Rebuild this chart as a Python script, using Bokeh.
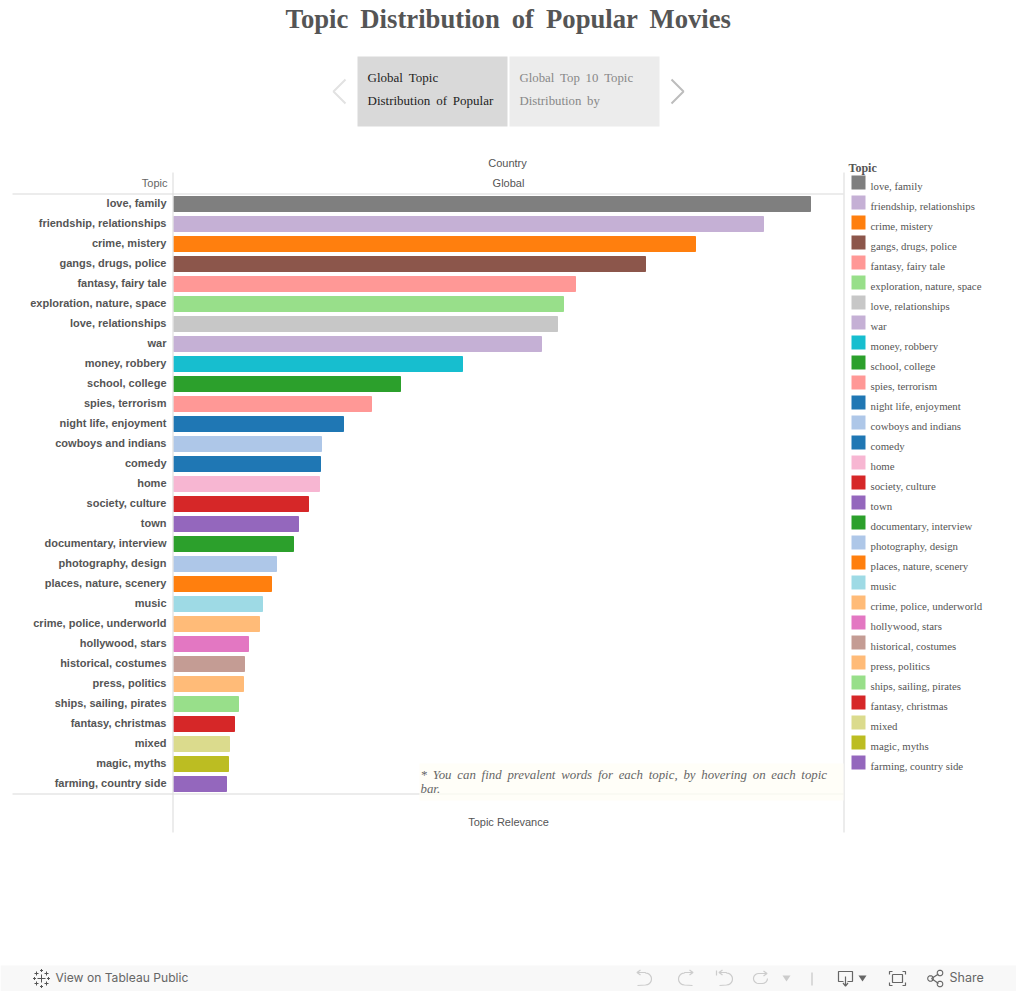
import math
from bokeh.plotting import figure
from bokeh.embed import file_html
from bokeh.resources import INLINE
from bokeh.layouts import column
from bokeh.core.properties import value
from bokeh.transform import dodge
from bokeh.models import ColumnDataSource, FactorRange, Range1d, LinearAxis, FixedTicker

topics = ["love, family", "friendship, relationships", "crime, mistery", "gangs, drugs, police",
          "fantasy, fairy tale", "exploration, nature, space", "love, relationships", "war",
          "money, robbery", "school, college", "spies, terrorism", "night life, enjoyment",
          "cowboys and indians", "comedy", "home", "society, culture", "town", "documentary, interview",
          "photography, design", "places, nature, scenery", "music", "crime, police, underworld",
          "hollywood, stars", "historical, costumes", "press, politics", "ships, sailing, pirates",
          "fantasy, christmas", "mixed", "magic, myths", "farming, country side"]
relevance = [0.637, 0.590, 0.522, 0.472, 0.402, 0.390, 0.384, 0.368, 0.289, 0.227,
             0.198, 0.170, 0.148, 0.147, 0.146, 0.135, 0.125, 0.120, 0.103, 0.098,
             0.089, 0.086, 0.075, 0.071, 0.070, 0.065, 0.061, 0.056, 0.055, 0.053]
colors = ["#7f7f7f", "#c5b0d5", "#ff7f0e", "#8c564b", "#ff9896", "#98df8a", "#c7c7c7", "#c5b0d5",
          "#17becf", "#2ca02c", "#ff9896", "#1f77b4", "#aec7e8", "#1f77b4", "#f7b6d2", "#d62728",
          "#9467bd", "#2ca02c", "#aec7e8", "#ff7f0e", "#9edae5", "#ffbb78", "#e377c2", "#c49c94",
          "#ffbb78", "#98df8a", "#d62728", "#dbdb8d", "#bcbd22", "#9467bd"]

SANS = "Liberation Sans"
SERIF = "Liberation Serif"
W, H = 1016, 991
TH = " \u2009"  # the reference's wider word gap

p = figure(width=W, height=H, output_backend="svg", toolbar_location=None,
           y_range=FactorRange(factors=topics[::-1], range_padding=0, factor_padding=0, group_padding=0),
           x_range=Range1d(0, 0.67), x_axis_location=None, y_axis_location="left",
           min_border_left=173, min_border_right=173, min_border_top=192, min_border_bottom=199,
           frame_width=670, frame_height=600, margin=(0, 0, -H, 0), frame_align=False)
p.outline_line_color = None
p.grid.visible = False

src = ColumnDataSource(dict(topic=topics, relevance=relevance, color=colors))
bars = p.hbar(y=dodge("topic", -0.075, range=p.y_range), right="relevance", left=0, height=0.75,
              color="color", source=src)

ya = p.yaxis[0]
ya.axis_line_color = None
ya.major_tick_line_color = None
ya.minor_tick_line_color = None
ya.major_tick_out = 0
ya.major_label_text_font = SANS
ya.major_label_text_font_size = "11px"
ya.major_label_text_font_style = "bold"
ya.major_label_text_color = "#555555"
ya.major_label_standoff = 7

bottom = LinearAxis(axis_label="Topic Relevance", axis_label_text_font=SANS, axis_label_text_font_size="11px",
                    axis_label_text_font_style="normal", axis_label_text_color="#555555",
                    axis_line_color=None, major_tick_line_color=None, minor_tick_line_color=None,
                    ticker=FixedTicker(ticks=[]), axis_label_standoff=23)
p.add_layout(bottom, "below")
top = LinearAxis(axis_label="Global", axis_label_text_font=SANS, axis_label_text_font_size="11px",
                 axis_label_text_font_style="normal", axis_label_text_color="#555555",
                 axis_line_color=None, major_tick_line_color=None, minor_tick_line_color=None,
                 ticker=FixedTicker(ticks=[]), axis_label_standoff=4)
p.add_layout(top, "above")

# page furniture: a transparent layer in pixel coordinates over the chart
o = figure(width=W, height=H, frame_width=W, frame_height=H, output_backend="svg", toolbar_location=None,
           x_range=Range1d(0, W), y_range=Range1d(H, 0), x_axis_location=None, y_axis_location=None,
           min_border_left=0, min_border_right=0, min_border_top=0, min_border_bottom=0,
           margin=0, background_fill_alpha=0, border_fill_alpha=0, frame_align=False)
o.outline_line_color = None
o.grid.visible = False


def box(x0, y0, x1, y1, color):
    o.quad(left=x0, right=x1, top=y0, bottom=y1, fill_color=color, line_color=None)


def poly(pts, color, w=1.2, closed=False, fill=None):
    xs = [a for a, _ in pts]
    ys = [b for _, b in pts]
    if closed:
        xs, ys = xs + xs[:1], ys + ys[:1]
    if fill:
        o.patch(xs, ys, fill_color=fill, line_color=None)
    else:
        o.line(xs, ys, line_color=color, line_width=w)


def text(x, y, s, size, color="#555555", font=SANS, style="normal", align="left"):
    o.text(x=[x], y=[y - 1], text=[s], text_font=value(font), text_font_size=value(f"{size}px"),
           text_color=color, text_font_style=style, text_align=align, text_baseline="middle")


# rules
RULE = "#d9d9d9"
box(12, 193, 843, 194, RULE)
box(12, 793, 843, 794, RULE)
box(172, 172, 173, 832, RULE)
box(843, 172, 844, 832, RULE)

# title and story navigator
text(508, 19, f"Topic{TH}Distribution{TH}of{TH}Popular{TH}Movies", 26.7, "#555555", SERIF, "bold", "center")
box(357, 56, 507, 126, "#d9d9d9")
box(509, 56, 659, 126, "#ececec")
text(367, 78, f"Global{TH}Topic", 13, "#222222", SERIF)
text(367, 101, f"Distribution{TH}of{TH}Popular", 13, "#222222", SERIF)
text(519, 78, f"Global{TH}Top{TH}10{TH}Topic", 12.8, "#888888", SERIF)
text(519, 101, f"Distribution{TH}by", 12.8, "#888888", SERIF)
poly([(345, 79), (333, 91), (345, 103)], "#e2e2e2", 2)
poly([(671, 79), (683, 91), (671, 103)], "#bdbdbd", 2)

# headers
text(507, 163, "Country", 11, "#555555", SANS, "normal", "center")
text(167, 183, "Topic", 11, "#666666", SANS, "normal", "right")

# note
box(419, 763, 843, 800, "#fffef8")
box(419, 793, 843, 794, "#f6f5ee")
note = "* You can find prevalent words for each topic, by hovering on each topic".replace(" ", TH)
text(420, 775, note, 12.85, "#666666", SERIF, "italic")
text(420, 789, "bar.", 12.85, "#666666", SERIF, "italic")

# colour legend
text(848, 168, "Topic", 12, "#555555", SERIF, "bold")
for i, (t, c) in enumerate(zip(topics, colors)):
    box(851, 175 + 20 * i, 865, 189 + 20 * i, c)
    text(870, 186 + 20 * i, t, 10.8, "#555555", SERIF)

# footer bar
box(0, 965, W, H, "#f8f8f8")
text(55, 978, "View on Tableau Public", 12.1, "#666666", "Inter")
text(949, 978, "Share", 12.5, "#666666", "Inter")
for cx, cy, r in [(41, 978, 4), (36, 973, 2), (46, 973, 2), (36, 983, 2), (46, 983, 2), (41, 970, 1.5),
                  (41, 986, 1.5), (34, 978, 1.5), (48, 978, 1.5)]:
    poly([(cx - r, cy), (cx + r, cy)], "#555555", 1)
    poly([(cx, cy - r), (cx, cy + r)], "#555555", 1)


def arc(cx, cy, r, a0, a1, n=10):
    return [(cx + r * math.cos(math.radians(a0 + (a1 - a0) * i / n)),
             cy + r * math.sin(math.radians(a0 + (a1 - a0) * i / n))) for i in range(n + 1)]


LIGHT = "#cccccc"
poly([(637, 972), (645, 972)] + arc(645, 978.5, 6, -90, 90) + [(637, 985)], LIGHT)
poly([(640, 969.5), (636.5, 972), (640, 974.5)], LIGHT)
poly([(692, 972), (684, 972)] + arc(684, 978.5, 6, -90, -270) + [(692, 985)], LIGHT)
poly([(689, 969.5), (692.5, 972), (689, 974.5)], LIGHT)
poly([(716, 970), (716, 975)], LIGHT)
poly([(719, 972), (726, 972)] + arc(726, 978.5, 6, -90, 90) + [(719, 985)], LIGHT)
poly([(722, 969.5), (718.5, 972), (722, 974.5)], LIGHT)
poly([(766, 973), (758, 973)] + arc(758, 978, 5, -90, -270) + [(762, 983)] + arc(762, 978, 5, 90, 0, 4), LIGHT)
poly([(763, 970.5), (766.5, 973), (763, 975.5)], LIGHT)
poly([(782, 975), (790, 975), (786, 981)], LIGHT, 1, True, LIGHT)
box(811, 972, 812, 985, "#bbbbbb")
DARK = "#666666"
poly([(843, 981), (838, 981), (838, 971), (852, 971), (852, 981), (847, 981)], DARK)
poly([(845, 976), (845, 985)], DARK)
poly([(842.5, 982.5), (845, 985.5), (847.5, 982.5)], DARK)
poly([(858, 975), (866, 975), (862, 981)], DARK, 1, True, DARK)
poly([(889, 974), (889, 971), (892, 971)], DARK)
poly([(902, 971), (905, 971), (905, 974)], DARK)
poly([(889, 982), (889, 985), (892, 985)], DARK)
poly([(902, 985), (905, 985), (905, 982)], DARK)
poly([(892, 974), (902, 974), (902, 982), (892, 982)], DARK, 1.2, True)
poly([(931, 978), (938, 973.5)], DARK)
poly([(931, 978), (938, 983)], DARK)
poly(arc(930, 978, 2.8, 0, 360, 16), DARK, 1.1, True)
poly(arc(939.5, 972.5, 2.8, 0, 360, 16), DARK, 1.1, True)
poly(arc(939.5, 983.5, 2.8, 0, 360, 16), DARK, 1.1, True)

open("out.html", "w").write(file_html(column(p, o), INLINE))
